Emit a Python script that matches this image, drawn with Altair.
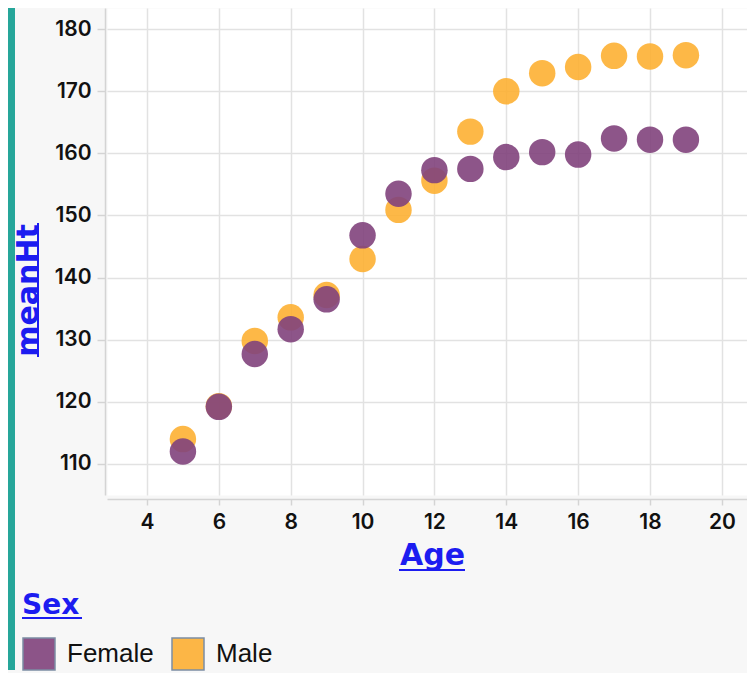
import altair as alt
import pandas as pd

# ---- data ----
ages = [5, 6, 7, 8, 9, 10, 11, 12, 13, 14, 15, 16, 17, 18, 19]
female_ht = [112.0, 119.2, 127.7, 131.7, 136.5, 146.8, 153.5, 157.3, 157.5, 159.4, 160.2, 159.8, 162.4, 162.2, 162.2]
male_ht = [114.0, 119.3, 129.8, 133.6, 137.2, 143.0, 150.9, 155.6, 163.5, 170.0, 172.9, 173.9, 175.7, 175.6, 175.8]
sexes = ["Female", "Male"]
sex_colors = ["#81437c", "#fdb033"]
x_ticks = [4, 6, 8, 10, 12, 14, 16, 18, 20]
y_ticks = [110, 120, 130, 140, 150, 160, 170, 180]

# male rows first so the female points are drawn on top
df = pd.DataFrame({
    "Age": ages + ages,
    "meanHt": male_ht + female_ht,
    "Sex": ["Male"] * len(ages) + ["Female"] * len(ages),
})

W, H = 640, 487
TITLE_BLUE = "#1c1cf0"
GRID = "#e2e2e2"
DOMAIN = "#d4d4d4"

points = alt.Chart(df).mark_circle(size=700, opacity=0.9).encode(
    x=alt.X(
        "Age:Q",
        scale=alt.Scale(domain=[2.887, 20.70], nice=False, zero=False),
        axis=alt.Axis(
            values=x_ticks, offset=4, tickSize=6, labelPadding=6, labelFlush=False,
            labelFont="Inter", labelFontSize=21, labelFontWeight=600, labelColor="#111111",
            domainColor=DOMAIN, domainWidth=1.5, tickColor=DOMAIN, tickWidth=1.5,
            gridColor=GRID, gridWidth=1.5,
            title="Age", titleFont="DejaVu Sans", titleFontSize=30, titleFontWeight="bold",
            titleColor=TITLE_BLUE, titleX=325, titleY=65, titleBaseline="alphabetic",
            titleAlign="center",
        ),
    ),
    y=alt.Y(
        "meanHt:Q",
        scale=alt.Scale(domain=[105.0, 183.4], nice=False, zero=False),
        axis=alt.Axis(
            values=y_ticks, offset=2, tickSize=8, labelPadding=6,
            labelFont="Inter", labelFontSize=21, labelFontWeight=600, labelColor="#111111",
            domainColor=DOMAIN, domainWidth=1.5, tickColor=DOMAIN, tickWidth=1.5,
            gridColor=GRID, gridWidth=1.5,
            title="meanHt", titleFont="DejaVu Sans", titleFontSize=30, titleFontWeight="bold",
            titleColor=TITLE_BLUE, titleX=-68, titleY=282, titleAngle=270,
            titleBaseline="alphabetic", titleAlign="center",
        ),
    ),
    color=alt.Color(
        "Sex:N",
        scale=alt.Scale(domain=sexes, range=sex_colors),
        legend=alt.Legend(
            orient="none", legendX=-85, legendY=584, direction="horizontal", padding=0,
            title="Sex", titleFont="DejaVu Sans", titleFontSize=28, titleFontWeight="bold",
            titleColor=TITLE_BLUE, titleBaseline="top", titlePadding=17,
            symbolType="square", symbolSize=1024, symbolStrokeColor="#6f829c",
            symbolStrokeWidth=1.5, symbolOpacity=0.9,
            labelFont="Liberation Sans", labelFontSize=26, labelColor="#111111",
            labelOffset=11, columnPadding=15,
        ),
    ),
)

deco = pd.DataFrame({"k": [0]})

# teal frame strip on the left (decoration of the original screenshot)
teal_left = alt.Chart(deco).mark_rect(color="#26a69a").encode(
    x=alt.value(-99), x2=alt.value(-92), y=alt.value(0), y2=alt.value(662)
)

# underlines of the link-styled titles
ul_age = alt.Chart(deco).mark_rule(color=TITLE_BLUE, strokeWidth=2).encode(
    x=alt.value(292), x2=alt.value(358), y=alt.value(562)
)
ul_ht = alt.Chart(deco).mark_rule(color=TITLE_BLUE, strokeWidth=2).encode(
    x=alt.value(-69), y=alt.value(215), y2=alt.value(349)
)
ul_sex = alt.Chart(deco).mark_rule(color=TITLE_BLUE, strokeWidth=2).encode(
    x=alt.value(-85), x2=alt.value(-25), y=alt.value(610)
)

chart = alt.layer(teal_left, points, ul_age, ul_ht, ul_sex).properties(
    width=W, height=H, padding=0, background="#f7f7f7"
).configure_view(fill="white", stroke="transparent")

chart.save("out.html", embed_options={"renderer": "svg", "actions": False})
